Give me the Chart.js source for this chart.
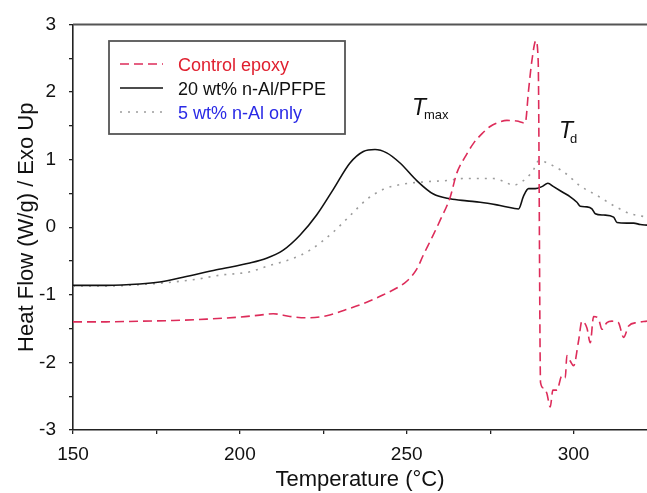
<!DOCTYPE html>
<html><head><meta charset="utf-8">
<script src="https://cdn.jsdelivr.net/npm/chart.js@4"></script>
<style>html,body{margin:0;padding:0;background:#fff;overflow:hidden;}</style>
</head><body>
<canvas id="c" width="647" height="493"></canvas>
<script>
// ---- data ----
const xTicks = [150, 175, 200, 225, 250, 275, 300];
const xLabels = [150, 200, 250, 300];
const yTicks = [-3, -2.5, -2, -1.5, -1, -0.5, 0, 0.5, 1, 1.5, 2, 2.5, 3];
const yLabels = [-3, -2, -1, 0, 1, 2, 3];

const seriesNames = ["Control epoxy", "20 wt% n-Al/PFPE", "5 wt% n-Al only"];

const epoxyT = [150, 160, 170, 180, 190, 200, 206, 210, 215, 220, 226, 233, 238, 243, 247, 250, 253, 255, 257.5, 260, 263, 265, 267.5, 270, 272.5, 275, 277.5, 280, 283, 285.5, 286.5, 287.5, 288.7, 289.4, 290.1, 291, 292, 293, 293.8, 295, 296.5, 297.5, 298, 299, 300, 301.5, 302.5, 304, 305, 306, 307.5, 308.5, 310, 311.5, 313.4, 315, 316.5, 319, 322];
const epoxyHF = [-1.40, -1.40, -1.39, -1.38, -1.36, -1.33, -1.30, -1.28, -1.32, -1.34, -1.31, -1.20, -1.11, -1.00, -0.90, -0.80, -0.62, -0.41, -0.16, 0.10, 0.44, 0.80, 1.04, 1.24, 1.38, 1.49, 1.55, 1.58, 1.57, 1.54, 2.02, 2.46, 2.76, 2.45, -2.30, -2.38, -2.46, -2.66, -2.41, -2.41, -2.20, -2.23, -1.90, -1.98, -2.05, -1.68, -1.39, -1.49, -1.71, -1.32, -1.36, -1.51, -1.41, -1.39, -1.41, -1.63, -1.46, -1.41, -1.39];

const pfpeT = [150, 160, 170, 176, 183, 193, 203, 208, 213, 218, 223, 228, 233, 237, 240.5, 244, 248, 253, 258, 263, 268, 272, 277, 282, 283.5, 285, 286.5, 288.5, 290.5, 292.3, 294, 297, 299, 301, 302, 304, 305.5, 306.5, 309, 312, 313, 316, 318, 320, 322];
const pfpeHF = [-0.86, -0.86, -0.84, -0.81, -0.74, -0.63, -0.53, -0.46, -0.34, -0.12, 0.18, 0.56, 0.95, 1.12, 1.15, 1.10, 0.95, 0.69, 0.49, 0.42, 0.39, 0.37, 0.33, 0.28, 0.27, 0.46, 0.57, 0.57, 0.60, 0.65, 0.60, 0.51, 0.45, 0.37, 0.31, 0.30, 0.27, 0.20, 0.18, 0.15, 0.07, 0.06, 0.06, 0.04, 0.03];

const alT = [150, 160, 170, 180, 187, 194, 203, 208, 216, 221, 228, 233, 238, 243, 248, 255, 262, 267, 272, 276, 279, 282, 284, 286, 288, 289.5, 291, 293, 296, 298, 302, 307, 312, 317, 322];
const alHF = [-0.87, -0.87, -0.85, -0.81, -0.77, -0.71, -0.66, -0.58, -0.46, -0.34, -0.07, 0.17, 0.41, 0.56, 0.63, 0.67, 0.69, 0.72, 0.72, 0.72, 0.68, 0.62, 0.66, 0.73, 0.85, 0.98, 0.97, 0.93, 0.85, 0.78, 0.61, 0.47, 0.32, 0.20, 0.15];

// ---- styles ----
const RED = "#dd2c5a", RED_TXT = "#e0202f", BLACK = "#111111", GRAY = "#9c9c9c", BLUE = "#2a2ae6";
const FONT = "'Liberation Sans', Arial, sans-serif";

function pts(xs, ys) { return xs.map((x, i) => ({ x: x, y: ys[i] })); }

const overlay = {
  id: "overlay",
  afterDraw(chart) {
    const ctx = chart.ctx, a = chart.chartArea;
    ctx.save();
    // top frame line
    ctx.strokeStyle = "#555"; ctx.lineWidth = 2;
    ctx.beginPath(); ctx.moveTo(a.left, a.top); ctx.lineTo(a.right, a.top); ctx.stroke();

    // legend box
    ctx.fillStyle = "#fff";
    ctx.fillRect(109, 41, 236, 93);
    ctx.strokeStyle = "#555"; ctx.lineWidth = 1.8;
    ctx.strokeRect(109, 41, 236, 93);
    const rows = [64, 88, 112];
    const styles = [
      { c: RED, w: 1.6, d: [9, 5] },
      { c: BLACK, w: 1.6, d: [] },
      { c: GRAY, w: 1.6, d: [2, 6] }
    ];
    const txtColors = [RED_TXT, BLACK, BLUE];
    ctx.font = "18px " + FONT;
    ctx.textBaseline = "alphabetic"; ctx.textAlign = "left";
    rows.forEach((y, i) => {
      ctx.strokeStyle = styles[i].c; ctx.lineWidth = styles[i].w; ctx.setLineDash(styles[i].d);
      ctx.beginPath(); ctx.moveTo(120, y); ctx.lineTo(163, y); ctx.stroke();
      ctx.setLineDash([]);
      ctx.fillStyle = txtColors[i];
      ctx.fillText(seriesNames[i], 178, y + 7);
    });

    // annotations
    ctx.fillStyle = "#111";
    ctx.font = "italic 23px " + FONT;
    ctx.fillText("T", 412, 115);
    ctx.fillText("T", 559, 138);
    ctx.font = "13px " + FONT;
    ctx.fillText("max", 424, 119);
    ctx.fillText("d", 570, 143);
    ctx.restore();
  }
};

new Chart(document.getElementById("c"), {
  type: "line",
  data: {
    datasets: [
      { label: seriesNames[0], data: pts(epoxyT, epoxyHF), borderColor: RED, borderWidth: 1.6, borderDash: [9, 5], pointRadius: 0, fill: false, cubicInterpolationMode: "monotone" },
      { label: seriesNames[1], data: pts(pfpeT, pfpeHF), borderColor: BLACK, borderWidth: 1.6, pointRadius: 0, fill: false, cubicInterpolationMode: "monotone" },
      { label: seriesNames[2], data: pts(alT, alHF), borderColor: GRAY, borderWidth: 1.6, borderDash: [2, 6], pointRadius: 0, fill: false, cubicInterpolationMode: "monotone" }
    ]
  },
  options: {
    responsive: false,
    animation: false,
    devicePixelRatio: 1,
    layout: { padding: { top: 20, right: 0, left: 0, bottom: 0 } },
    plugins: { legend: { display: false }, tooltip: { enabled: false } },
    scales: {
      x: {
        type: "linear", min: 150, max: 322,
        afterBuildTicks: s => { s.ticks = xTicks.map(v => ({ value: v })); },
        afterFit: s => { s.height = 63; },
        ticks: {
          color: "#111", font: { family: FONT, size: 19 }, padding: 9, maxRotation: 0,
          callback: v => xLabels.includes(v) ? String(v) : ""
        },
        grid: { drawOnChartArea: false, drawTicks: true, tickLength: 4, color: "#222", lineWidth: 1.3 },
        border: { display: true, color: "#222", width: 1.6 },
        title: { display: true, text: "Temperature (°C)", color: "#111", font: { family: FONT, size: 22 }, padding: { top: 0, bottom: 0 } }
      },
      y: {
        type: "linear", min: -3, max: 3,
        afterBuildTicks: s => { s.ticks = yTicks.map(v => ({ value: v })); },
        afterFit: s => { s.width = 73; },
        ticks: {
          color: "#111", font: { family: FONT, size: 19 }, padding: 13,
          callback: v => yLabels.includes(v) ? String(v) : ""
        },
        grid: { drawOnChartArea: false, drawTicks: true, tickLength: 4, color: "#222", lineWidth: 1.3 },
        border: { display: true, color: "#222", width: 1.6 },
        title: { display: true, text: "Heat Flow (W/g) / Exo Up", color: "#111", font: { family: FONT, size: 22 }, padding: { top: 14, bottom: 0 } }
      }
    }
  },
  plugins: [overlay]
});
</script>
</body></html>
